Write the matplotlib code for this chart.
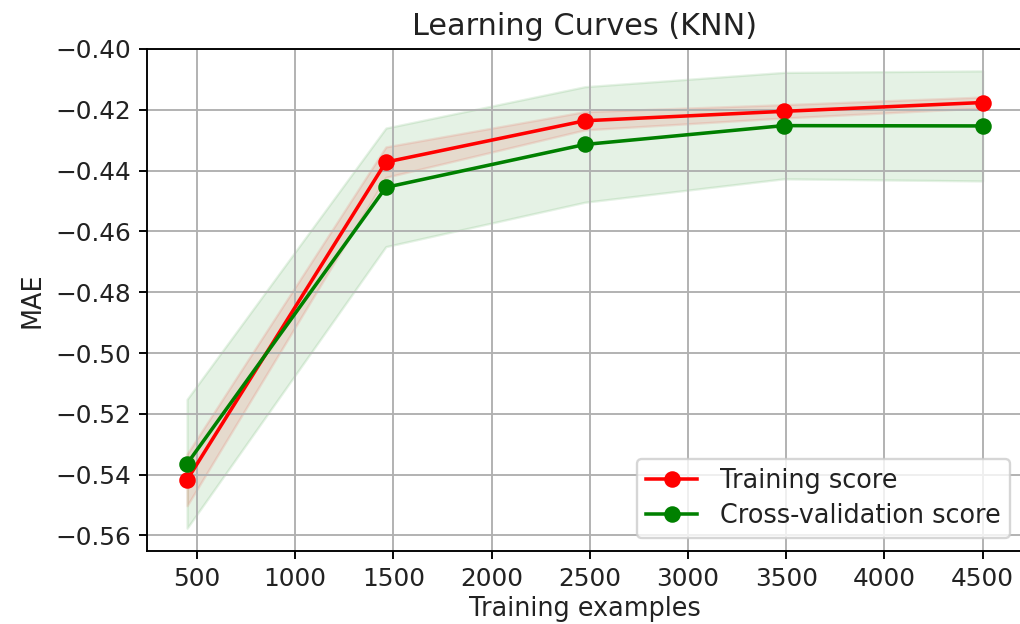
import numpy as np
import matplotlib
matplotlib.use("Agg")
import matplotlib.pyplot as plt

train_sizes = [450, 1462, 2475, 3487, 4500]
train_mean = [-0.5417, -0.4372, -0.4236, -0.4205, -0.4176]
train_std = [0.0085, 0.0050, 0.0030, 0.0022, 0.0018]
test_mean = [-0.5364, -0.4455, -0.4314, -0.4252, -0.4253]
test_std = [0.0212, 0.0195, 0.0190, 0.0175, 0.0181]

title = "Learning Curves (KNN)"
xlabel = "Training examples"
ylabel = "MAE"

tm = np.array(train_mean); ts = np.array(train_std)
vm = np.array(test_mean); vs = np.array(test_std)

fig = plt.figure(figsize=(6.0, 624/170), dpi=170)
ax = fig.add_axes([147.3/1020, 1-550.7/624, (1022.4-147.3)/1020, (550.7-49)/624])
ax.set_title(title, fontsize=12.8, color="#222222")
ax.set_xlabel(xlabel, fontsize=10.8, color="#222222", labelpad=2)
ax.set_ylabel(ylabel, fontsize=10.8, color="#222222")
ax.tick_params(labelsize=10.5, labelcolor="#222222")
ax.grid()
ax.fill_between(train_sizes, tm - ts, tm + ts, alpha=0.1, color="r")
ax.fill_between(train_sizes, vm - vs, vm + vs, alpha=0.1, color="g")
ax.plot(train_sizes, tm, 'o-', color="r", label="Training score")
ax.plot(train_sizes, vm, 'o-', color="g", label="Cross-validation score")
ax.set_xlim(247.5, 4702.5)
ax.set_ylim(-0.5650, -0.4000)
ax.set_yticks(np.arange(-0.56, -0.399, 0.02))
leg = ax.legend(loc="lower right", fontsize=10.8, labelspacing=0.35,
                borderpad=0.35, handletextpad=0.9, borderaxespad=0.5)
for t in leg.get_texts():
    t.set_color("#222222")
fig.savefig("out.png", dpi=170)
